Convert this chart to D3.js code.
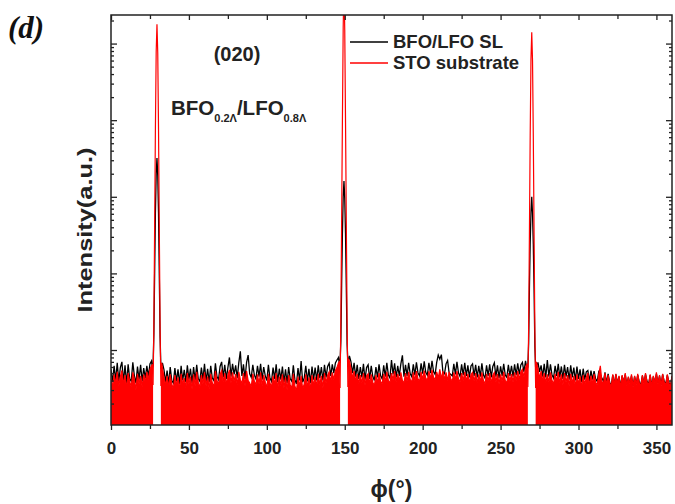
<!DOCTYPE html>
<html><head><meta charset="utf-8">
<script src="https://cdn.jsdelivr.net/npm/d3@7"></script>
<style>body{margin:0;background:#fff}svg{display:block}</style>
</head><body>
<svg id="c" width="675" height="504"></svg>
<script>
// ---------- data ----------
const xMajorTicks = [0, 50, 100, 150, 200, 250, 300, 350];
const xMinorTicks = [25, 75, 125, 175, 225, 275, 325];
const seriesNames = ["BFO/LFO SL", "STO substrate"];
const seriesColors = ["#000000", "#ff0000"];

// phi grid 0..360 step 1 (background); null where the peak arrays take over
const stoNoise = [
4.3,3.2,4.8,3.6,5.2,3.4,4.5,5.4,3.5,4.7,
3.1,5.0,3.9,3.3,5.1,4.2,3.0,4.9,3.6,4.6,
3.3,4.8,3.8,5.2,4.1,5.6,6.3,null,null,null,
null,null,null,5.9,4.4,3.4,4.6,3.2,4.8,3.6,
3.1,4.7,3.4,4.4,3.0,4.9,3.5,4.3,3.2,5.0,
3.6,4.5,3.1,4.8,3.4,5.2,3.8,3.2,4.7,3.6,
5.1,3.4,4.5,3.1,4.9,3.7,3.3,5.3,4.0,3.5,
4.8,5.4,3.8,5.0,3.5,4.7,5.5,3.7,5.1,3.9,
4.9,3.5,5.2,4.1,3.6,5.0,3.4,5.3,4.0,3.7,
3.3,4.9,3.9,3.5,4.8,3.6,5.1,3.4,4.7,3.8,
3.2,4.9,3.7,3.3,4.6,3.5,5.0,3.1,4.5,3.4,
4.8,3.2,4.4,3.0,4.7,3.5,3.2,4.9,3.4,2.9,
4.5,3.3,4.6,3.1,3.6,4.8,3.2,4.4,3.0,4.7,
3.4,4.5,3.3,4.9,3.5,4.6,3.2,5.0,3.7,4.7,
5.2,3.8,5.1,4.1,5.4,5.9,6.8,null,null,null,
null,null,null,7.2,5.7,4.3,5.3,3.9,4.9,3.6,
4.7,3.7,5.0,3.5,4.6,4.9,3.6,4.8,3.8,3.4,
4.7,3.7,5.0,3.9,3.6,4.9,3.8,5.2,4.0,3.7,
5.0,4.1,5.3,3.8,4.9,3.9,5.1,4.0,3.7,5.0,
3.9,5.2,4.1,3.8,5.1,4.0,5.3,4.2,3.9,5.2,
4.1,5.4,4.3,4.0,5.3,4.2,5.5,4.4,4.1,5.2,
4.3,5.6,4.2,5.3,4.1,5.1,4.0,5.2,4.2,3.9,
5.1,4.1,5.3,4.2,3.8,5.0,4.0,5.2,3.9,4.9,
3.7,4.8,5.1,3.9,5.0,3.7,4.8,3.8,5.1,4.0,
3.6,4.9,3.9,5.0,3.7,4.7,5.1,3.8,4.9,3.6,
4.8,3.9,5.2,4.0,3.7,5.0,3.9,4.9,3.8,5.1,
4.0,5.3,4.1,5.2,5.6,4.4,5.9,null,null,null,
null,null,null,null,5.7,4.3,5.3,3.9,5.0,3.7,
4.8,3.8,5.1,4.0,3.6,4.9,3.9,5.2,3.7,4.8,
3.5,5.0,3.8,4.7,3.4,4.9,3.7,4.6,3.3,4.8,
3.6,4.5,3.2,4.7,3.5,4.4,5.0,3.4,4.6,3.6,
4.9,3.8,3.5,4.8,6.2,3.9,3.6,5.0,3.4,4.7,
3.7,3.3,4.8,3.5,4.9,3.6,4.6,3.2,4.7,3.7,
5.0,3.4,4.5,3.6,4.8,3.3,4.6,3.5,4.9,3.7,
3.4,4.7,3.6,5.0,3.8,3.5,4.8,3.3,4.6,3.7,
5.1,3.6,4.7,3.4,4.9,3.8,3.5,4.8,3.7,3.3,
4.6];

const slNoise = [
5.6,3.8,6.2,4.0,6.8,3.9,5.9,7.0,3.8,6.3,
3.6,6.5,4.2,3.9,6.9,4.6,3.7,6.1,4.1,6.4,
3.9,5.8,4.3,6.2,4.5,6.6,7.2,null,null,null,
null,null,null,6.8,5.5,3.8,5.4,3.6,6.0,4.0,
3.7,5.8,3.9,5.6,3.6,6.2,4.0,5.5,3.8,6.3,
4.1,5.7,3.7,6.0,4.0,6.4,4.2,3.9,5.9,4.1,
6.6,3.9,5.7,3.8,6.2,4.3,4.0,6.7,4.5,4.1,
6.1,7.0,4.4,6.4,4.2,5.9,8.0,4.5,6.6,4.8,
6.3,4.3,6.8,9.6,4.6,6.5,4.2,6.9,8.6,4.9,
4.4,6.4,4.7,4.2,6.2,4.5,6.6,4.1,6.0,4.6,
4.0,6.4,4.3,3.9,5.9,4.2,6.5,3.8,5.7,4.1,
6.1,3.8,5.6,3.7,6.0,4.2,3.9,6.3,4.1,3.6,
5.8,4.0,7.2,3.8,4.3,6.2,3.9,5.7,3.7,6.1,
4.1,5.9,4.0,6.3,4.3,6.0,4.0,6.4,4.4,6.1,
6.7,4.6,6.5,5.0,6.8,7.4,8.0,null,null,null,
null,null,null,8.4,7.0,5.0,6.8,4.5,6.4,4.2,
6.0,4.4,6.6,4.1,5.9,6.4,4.2,6.2,4.5,4.0,
6.0,4.4,6.5,4.6,4.2,6.3,4.5,6.8,4.7,4.3,
7.4,4.8,6.7,4.4,6.2,4.6,6.6,8.5,4.5,6.4,
4.6,6.8,4.9,4.5,6.5,4.7,6.9,5.0,4.6,6.7,
4.9,7.1,5.1,4.7,6.8,5.0,7.2,5.2,4.8,6.9,
8.6,7.6,8.7,5.1,4.9,6.6,7.3,5.0,4.8,4.6,
6.6,4.8,7.0,5.0,4.5,6.5,4.7,6.8,4.6,6.3,
4.4,6.2,6.6,4.6,6.4,4.4,6.2,4.5,6.7,4.7,
4.3,6.3,4.6,6.5,4.4,6.1,6.8,4.5,6.3,4.3,
6.1,4.6,6.6,4.7,4.4,6.4,4.6,6.2,4.5,6.5,
4.7,6.7,4.8,6.4,6.9,5.2,7.2,null,null,null,
null,null,null,null,6.9,5.2,6.3,4.5,6.6,4.4,
7.4,4.5,6.5,4.7,4.3,6.2,4.6,6.6,4.4,6.1,
4.2,6.4,4.5,6.0,4.1,6.3,4.4,5.9,4.0,6.1,
4.2,5.6,3.8,5.7,4.1,5.2,5.4,3.9,5.4,4.1,
5.3,4.2,3.9,5.2,4.8,4.3,3.9,5.1,3.7,4.9,
3.8,3.4,4.7,3.6,4.8,3.7,4.5,3.3,4.6,3.8,
4.8,3.5,4.4,3.7,4.6,3.4,4.5,3.6,4.7,3.8,
3.5,4.6,3.7,4.8,3.9,3.6,4.7,3.4,4.5,3.8,
4.9,3.7,4.6,3.5,4.8,3.9,3.6,4.7,3.8,3.4,
4.5];

// reflections (finer sampling around each peak)
const peakCenters = [29.5, 149.5, 270];
const peakOffsets = [-3, -2.5, -2, -1.5, -1, -0.5, 0, 0.5, 1, 1.5, 2, 2.5, 3];
const stoPeak1 = [6.4, 3.5, 20, 400, 7900, 79000, 178000, 76000, 7600, 380, 19, 3.4, 6.8];
const stoPeak2 = [7.0, 3.2, 25, 500, 10000, 160000, 630000, 150000, 9500, 480, 24, 3.3, 7.5];
const stoPeak3 = [6.6, 3.3, 19, 320, 6300, 63000, 140000, 60000, 6000, 300, 18, 3.2, 7.0];
const slPeak1 = [5.8, 6.3, 16, 100, 630, 2000, 3200, 1900, 600, 95, 15, 6.0, 6.2];
const slPeak2 = [6.6, 7.0, 13, 70, 330, 1000, 1600, 950, 320, 66, 12, 6.8, 7.2];
const slPeak3 = [5.5, 6.0, 12, 63, 250, 630, 1000, 600, 240, 60, 11, 5.8, 6.0];

// ---------- build ----------
const stoPeaks = [stoPeak1, stoPeak2, stoPeak3];
const slPeaks = [slPeak1, slPeak2, slPeak3];
const pts = [];
stoNoise.forEach((v, i) => {
  if (v !== null) pts.push({phi: i, sto: v, sl: slNoise[i], fill: true});
});
peakCenters.forEach((c, k) => {
  peakOffsets.forEach((o, j) => {
    pts.push({phi: c + o, sto: stoPeaks[k][j], sl: slPeaks[k][j], fill: Math.abs(o) >= 2.5});
  });
});
pts.sort((a, b) => a.phi - b.phi);

const L = 111, R = 672, T = 15, B = 425;
const svg = d3.select("#c");
const x = d3.scaleLinear().domain([0, 360]).range([L, R]);
const y = d3.scaleLog().domain([1.05, 236000]).range([B, T]);

svg.append("defs").append("clipPath").attr("id", "clip")
  .append("rect").attr("x", L).attr("y", T).attr("width", R - L).attr("height", B - T);

const g = svg.append("g").attr("clip-path", "url(#clip)");

g.append("path").datum(pts)
  .attr("fill", "none").attr("stroke", seriesColors[0]).attr("stroke-width", 1.3)
  .attr("d", d3.line().x(d => x(d.phi)).y(d => y(d.sl)));

g.append("path").datum(pts)
  .attr("fill", seriesColors[1]).attr("stroke", "none")
  .attr("d", d3.area().defined(d => d.fill).x(d => x(d.phi)).y0(B).y1(d => y(d.sto)));

g.append("path").datum(pts)
  .attr("fill", "none").attr("stroke", seriesColors[1]).attr("stroke-width", 1.2)
  .attr("d", d3.line().x(d => x(d.phi)).y(d => y(d.sto)));

// ---------- axes ----------
const font = "'Liberation Sans', Arial, sans-serif";
function styleAxis(sel) {
  sel.select(".domain").remove();
  sel.selectAll("line").attr("stroke", "#222").attr("stroke-width", 1.3);
  sel.selectAll("text").attr("font-family", font).attr("font-weight", "bold")
    .attr("font-size", 17).attr("fill", "#222");
}
svg.append("g").attr("transform", `translate(0,${B})`)
  .call(d3.axisBottom(x).tickValues(xMajorTicks).tickSize(5).tickPadding(12).tickFormat(d3.format("d")))
  .call(styleAxis);
svg.append("g").attr("transform", `translate(0,${B})`)
  .call(d3.axisBottom(x).tickValues(xMinorTicks).tickSize(4).tickFormat(""))
  .call(styleAxis);
svg.append("g").attr("transform", `translate(0,${T})`)
  .call(d3.axisTop(x).tickValues(xMajorTicks).tickSize(-5).tickFormat(""))
  .call(styleAxis);
svg.append("g").attr("transform", `translate(0,${T})`)
  .call(d3.axisTop(x).tickValues(xMinorTicks).tickSize(-4).tickFormat(""))
  .call(styleAxis);

const yMajor = [10, 100, 1000, 10000, 100000];
const yMinor = [];
[1, 10, 100, 1000, 10000, 100000].forEach(p => {
  for (let k = 2; k <= 9; k++) { const v = k * p; if (v > 1.05 && v < 236000) yMinor.push(v); }
});
svg.append("g").attr("transform", `translate(${L},0)`)
  .call(d3.axisLeft(y).tickValues(yMajor).tickSize(-6).tickFormat("")).call(styleAxis);
svg.append("g").attr("transform", `translate(${L},0)`)
  .call(d3.axisLeft(y).tickValues(yMinor).tickSize(-3).tickFormat("")).call(styleAxis);
svg.append("g").attr("transform", `translate(${R},0)`)
  .call(d3.axisRight(y).tickValues(yMajor).tickSize(-6).tickFormat("")).call(styleAxis);
svg.append("g").attr("transform", `translate(${R},0)`)
  .call(d3.axisRight(y).tickValues(yMinor).tickSize(-3).tickFormat("")).call(styleAxis);

svg.append("rect").attr("x", L).attr("y", T).attr("width", R - L).attr("height", B - T)
  .attr("fill", "none").attr("stroke", "#222").attr("stroke-width", 1.5);

// ---------- titles ----------
svg.append("text").attr("x", (L + R) / 2).attr("y", 497).attr("text-anchor", "middle")
  .attr("font-family", font).attr("font-weight", "bold").attr("font-size", 23).attr("fill", "#222")
  .text("ϕ(°)");
svg.append("text").attr("transform", `translate(92,${(T + B) / 2 + 10}) rotate(-90)`)
  .attr("text-anchor", "middle")
  .attr("font-family", font).attr("font-weight", "bold").attr("font-size", 21).attr("fill", "#222")
  .attr("textLength", 165).attr("lengthAdjust", "spacingAndGlyphs")
  .text("Intensity(a.u.)");

svg.append("text").attr("x", 8).attr("y", 38)
  .attr("font-family", "'Liberation Serif', 'Times New Roman', serif").attr("font-weight", "bold")
  .attr("font-style", "italic").attr("font-size", 31).attr("fill", "#111")
  .text("(d)");

svg.append("text").attr("x", 237).attr("y", 61).attr("text-anchor", "middle")
  .attr("font-family", font).attr("font-weight", "bold").attr("font-size", 20).attr("fill", "#222")
  .text("(020)");

const comp = svg.append("text").attr("x", 171).attr("y", 115)
  .attr("font-family", font).attr("font-weight", "bold").attr("font-size", 20.5).attr("fill", "#222");
comp.append("tspan").text("BFO");
comp.append("tspan").attr("font-size", 11).attr("dy", 7).text("0.2Λ");
comp.append("tspan").attr("dy", -7).text("/LFO");
comp.append("tspan").attr("font-size", 11).attr("dy", 7).text("0.8Λ");

// ---------- legend ----------
const leg = svg.append("g");
seriesNames.forEach((n, i) => {
  const yy = 42 + i * 21;
  leg.append("line").attr("x1", 350).attr("x2", 388).attr("y1", yy).attr("y2", yy)
    .attr("stroke", seriesColors[i]).attr("stroke-width", 1.5);
  leg.append("text").attr("x", 393).attr("y", yy + 6)
    .attr("font-family", font).attr("font-weight", "bold").attr("font-size", 18.5).attr("fill", "#222")
    .text(n);
});
</script>
</body></html>
